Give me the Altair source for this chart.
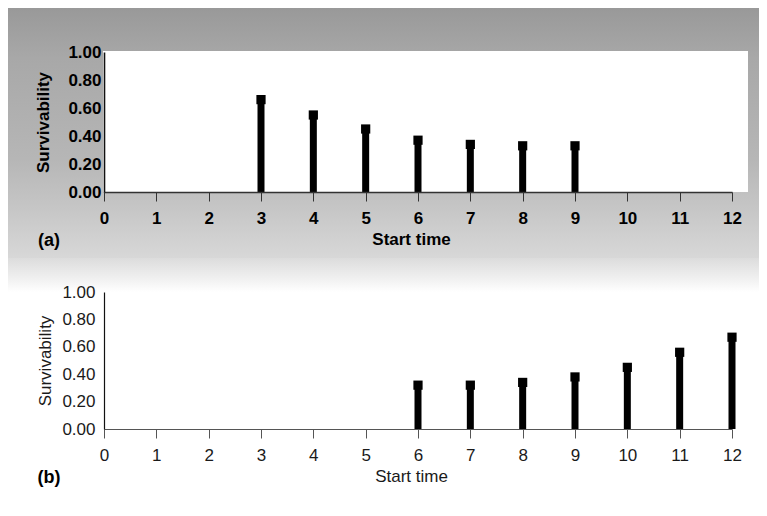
import altair as alt
import pandas as pd

# ---- data ----
top_start = [3, 4, 5, 6, 7, 8, 9]
top_surv = [0.66, 0.55, 0.45, 0.37, 0.34, 0.33, 0.33]

bottom_start = [6, 7, 8, 9, 10, 11, 12]
bottom_surv = [0.32, 0.32, 0.34, 0.38, 0.45, 0.56, 0.67]

x_ticks = list(range(0, 13))
y_ticks = [0.0, 0.2, 0.4, 0.6, 0.8, 1.0]

FONT = "Liberation Sans"
W, H_TOP, H_BOT = 628, 140, 137

df_top = pd.DataFrame({"start": top_start, "surv": top_surv})
df_bot = pd.DataFrame({"start": bottom_start, "surv": bottom_surv})
one = pd.DataFrame({"k": [0]})

xscale = alt.Scale(domain=[0, 12], nice=False, zero=False)
yscale = alt.Scale(domain=[0, 1], nice=False)


def panel(df, height, bold, tag, ylabpad, ytitlex, label_color, dom_color, dom_w):
    weight = "bold" if bold else "normal"
    xaxis = alt.Axis(
        values=x_ticks, format="d", title="Start time", grid=False,
        tickSize=9, tickColor=dom_color, tickWidth=1,
        domainColor=dom_color, domainWidth=dom_w,
        labelFont=FONT, labelFontSize=17, labelFontWeight=weight,
        labelColor=label_color, labelBaseline="middle", labelPadding=17,
        labelFlush=False, labelOverlap=False,
        titleFont=FONT, titleFontSize=17, titleFontWeight=weight,
        titleColor=label_color, titleX=307, titleY=47,
        titleAlign="center", titleBaseline="middle", zindex=1,
    )
    yaxis = alt.Axis(
        values=y_ticks, format=".2f", title="Survivability", grid=False,
        ticks=False, domainColor="#111111", domainWidth=1.6 if bold else 1.2,
        labelFont=FONT, labelFontSize=17, labelFontWeight=weight,
        labelColor=label_color, labelPadding=ylabpad, labelFlush=False,
        labelOverlap=False, labelBaseline="middle",
        titleFont=FONT, titleFontSize=17, titleFontWeight=weight,
        titleColor=label_color, titleX=ytitlex, titleY=height / 2,
        titleAngle=270, titleAlign="center", titleBaseline="middle", zindex=1,
    )
    stems = alt.Chart(df).mark_rule(strokeWidth=7, color="black", strokeCap="butt").encode(
        x=alt.X("start:Q", scale=xscale, axis=xaxis),
        y=alt.Y("surv:Q", scale=yscale, axis=yaxis),
        y2=alt.datum(0),
    )
    caps = alt.Chart(df).mark_square(size=85, color="black", filled=True, opacity=1).encode(
        x=alt.X("start:Q", scale=xscale, axis=xaxis),
        y=alt.Y("surv:Q", scale=yscale, axis=yaxis),
    )
    text = alt.Chart(one).mark_text(
        text=tag, font=FONT, fontSize=18, fontWeight="bold", color="black",
        align="center", baseline="middle",
    ).encode(x=alt.value(-55), y=alt.value(height + 49))
    return stems, caps, text


# top panel backgrounds
grad_top = alt.Gradient(
    gradient="linear", x1=0, x2=0, y1=0, y2=1,
    stops=[
        alt.GradientStop(color="#999999", offset=0),
        alt.GradientStop(color="#a8a8a8", offset=0.2),
        alt.GradientStop(color="#b6b6b6", offset=0.6),
        alt.GradientStop(color="#c6c6c6", offset=0.8),
        alt.GradientStop(color="#d8d8d8", offset=1),
    ],
)
bg_top = alt.Chart(one).mark_rect(color=grad_top).encode(
    x=alt.value(-96), x2=alt.value(655), y=alt.value(-44), y2=alt.value(207)
)
white_top = alt.Chart(one).mark_rect(color="white").encode(
    x=alt.value(-1), x2=alt.value(644), y=alt.value(-1), y2=alt.value(H_TOP)
)
s1, c1, t1 = panel(df_top, H_TOP, True, "(a)", 3, -61, "black", "#333333", 1.6)
top = alt.layer(bg_top, white_top, s1, c1, t1).properties(width=W, height=H_TOP)

# bottom panel
grad_bot = alt.Gradient(
    gradient="linear", x1=0, x2=0, y1=0, y2=1,
    stops=[
        alt.GradientStop(color="#dcdcdc", offset=0),
        alt.GradientStop(color="#f0f0f0", offset=0.6),
        alt.GradientStop(color="#ffffff", offset=1),
    ],
)
bg_bot = alt.Chart(one).mark_rect(color=grad_bot).encode(
    x=alt.value(-96), x2=alt.value(655), y=alt.value(-34), y2=alt.value(0)
)
s2, c2, t2 = panel(df_bot, H_BOT, False, "(b)", 9, -59, "#1a1a1a", "#555555", 1)
bottom = alt.layer(bg_bot, s2, c2, t2).properties(width=W, height=H_BOT)

chart = alt.vconcat(top, bottom, spacing=100, bounds="flush").properties(
    padding=0, background="white"
).configure_view(stroke=None)

chart.save("out.html", embed_options={"renderer": "svg", "actions": False})
